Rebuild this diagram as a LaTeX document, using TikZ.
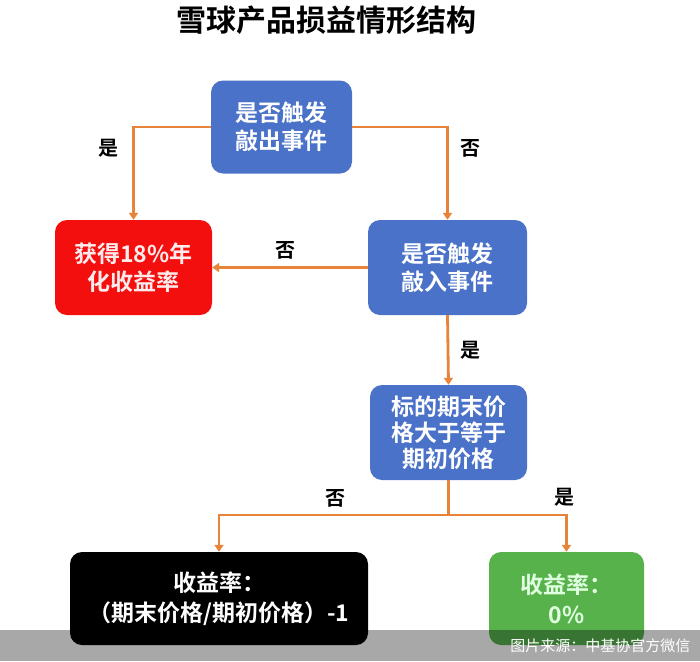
\documentclass[tikz,border=0pt]{standalone}
\usepackage{fontspec}
\setmainfont{Noto Sans CJK SC}[BoldFont=* Bold]
\usetikzlibrary{arrows.meta}
\definecolor{boxblue}{HTML}{4A72C8}
\definecolor{boxred}{HTML}{F40F0F}
\definecolor{boxgreen}{HTML}{58B24C}
\definecolor{arrorange}{HTML}{E8843A}
\tikzset{
  box/.style={rounded corners=12pt, inner sep=0pt, align=center, font=\bfseries\fontsize{23}{28}\selectfont},
  bluebox/.style={box, fill=boxblue, text=white},
  redbox/.style={box, fill=boxred, text=white!92!red},
  blackbox/.style={box, fill=black, text=white},
  greenbox/.style={box, fill=boxgreen, text=green!12!white},
  conn/.style={draw=arrorange, line width=2.8pt},
  arr/.style={conn, -{Triangle[width=9pt,length=7pt]}},
  lbl/.style={font=\bfseries\fontsize{20}{24}\selectfont, text=black},
}
\begin{document}
\begin{tikzpicture}[x=1pt,y=-1pt]
\useasboundingbox (0,0) rectangle (700,661);
\fill[white] (0,0) rectangle (700,661);
\node[font=\bfseries\fontsize{30}{34}\selectfont] (title) at (326,20) {雪球产品损益情形结构};

\node[bluebox, minimum width=141pt, minimum height=93pt] (b1) at (281.5,127) {是否触发\\敲出事件};
\node[redbox, minimum width=157pt, minimum height=95pt] (red) at (133.5,267.5) {获得18\%年\\化收益率};
\node[bluebox, minimum width=159pt, minimum height=95pt] (b2) at (447.5,267.5) {是否触发\\敲入事件};
\node[bluebox, minimum width=157pt, minimum height=95pt, font=\bfseries\fontsize{23}{26}\selectfont] (b3) at (448.5,432.5) {标的期末价\\格大于等于\\期初价格};
\node[blackbox, minimum width=298pt, minimum height=93pt, font=\bfseries\fontsize{23}{30}\selectfont] (blk) at (219,598.5) {收益率：\\（期末价格/期初价格）-1};
\node[greenbox, minimum width=155pt, minimum height=93pt, font=\bfseries\fontsize{23}{30}\selectfont] (grn) at (566.5,598.5) {收益率：\\0\%};

\coordinate (split) at (448.5,515);
\draw[arr] (b1.west) -| (red.north);
\draw[arr] (b1.east) -| (b2.north);
\draw[arr] (b2.west) -- (red.east);
\draw[arr] (b2.south) -- (b3.north);
\draw[conn] (b3.south) -- (split);
\draw[arr] (split) -| (blk.north);
\draw[arr] (split) -| (grn.north);

\node[lbl] (l1) at (108,148) {是};
\node[lbl] (l2) at (470,148) {否};
\node[lbl] (l3) at (285,250) {否};
\node[lbl] (l4) at (470,350) {是};
\node[lbl] (l5) at (335,498) {否};
\node[lbl] (l6) at (564,497) {是};

\fill[black, opacity=0.34] (0,630) rectangle (700,661);
\node[anchor=east, text=white, font=\fontsize{15}{18}\selectfont] (src) at (694,646) {图片来源：中基协官方微信};
\end{tikzpicture}
\end{document}
